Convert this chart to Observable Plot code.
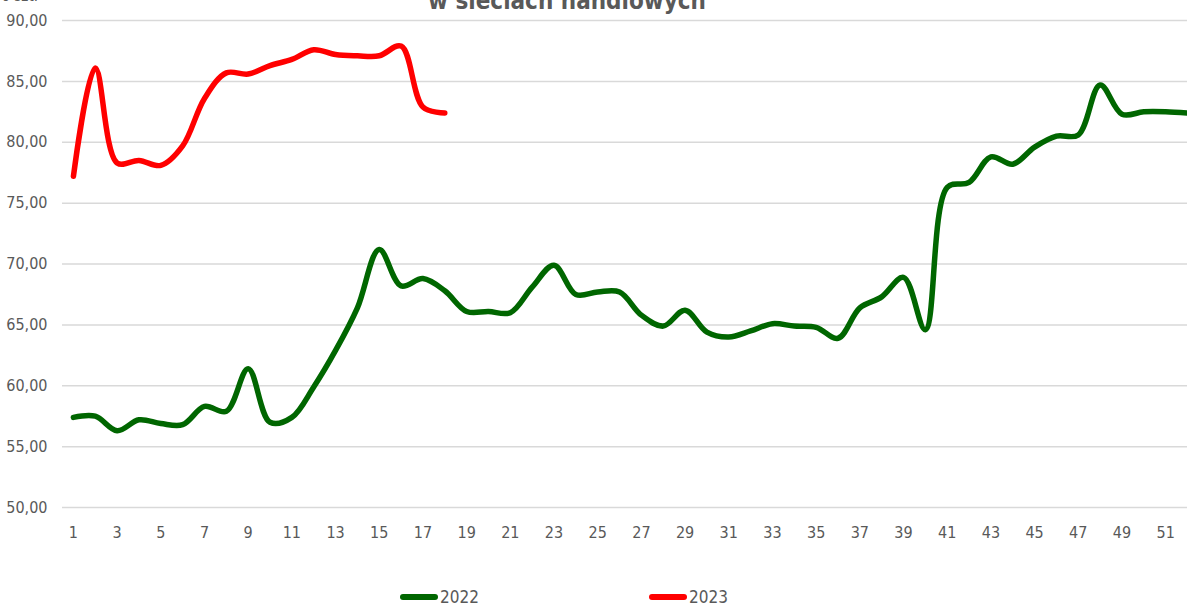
<!DOCTYPE html>
<html>
<head>
<meta charset="utf-8">
<script src="https://cdn.jsdelivr.net/npm/d3@7"></script>
<script src="https://cdn.jsdelivr.net/npm/@observablehq/plot@0.6"></script>
<style>
  html, body { margin: 0; padding: 0; background: #fff; overflow: hidden; }
  #wrap { position: relative; width: 1187px; height: 605px; overflow: hidden;
          font-family: "Liberation Sans Narrow", "DejaVu Sans Condensed", "Liberation Sans", sans-serif; color: #595959; }
  #chart { position: absolute; left: 0; top: 0; }
  #title { position: absolute; left: 0; width: 1134px; top: -13px; text-align: center;
           font-weight: bold; font-size: 24px; color: #595959; white-space: nowrap; }
  #unit { position: absolute; right: 1149px; top: -13px; font-size: 15px; color: #595959; white-space: nowrap; }
  .leg { position: absolute; top: 589px; height: 16px; line-height: 16px; display: flex; align-items: center; font-size: 17px; color: #595959; }
  .sw { width: 38px; height: 6px; border-radius: 3px; margin-right: 2px; }
</style>
</head>
<body>
<div id="wrap">
  <div id="chart"></div>
  <div id="title">w sieciach handlowych</div>
  <div id="unit">1000 szt.</div>
  <div class="leg" style="left:400px"><div class="sw" style="background:#006600"></div><span>2022</span></div>
  <div class="leg" style="left:649px"><div class="sw" style="background:#ff0000"></div><span>2023</span></div>
</div>
<script>
const weeks2022 = Array.from({length: 52}, (_, i) => i + 1);
const values2022 = [
  57.4, 57.5, 56.3, 57.2, 56.9, 56.8, 58.3, 57.9, 61.4, 57.0,
  57.4, 59.9, 62.9, 66.4, 71.2, 68.2, 68.8, 67.8, 66.1, 66.1,
  66.0, 68.1, 69.9, 67.5, 67.7, 67.7, 65.8, 64.9, 66.2, 64.4,
  64.0, 64.5, 65.1, 64.9, 64.8, 63.9, 66.4, 67.3, 68.9, 64.6,
  76.3, 76.7, 78.8, 78.2, 79.6, 80.5, 80.6, 84.7, 82.3, 82.5,
  82.5, 82.4
];
const weeks2023 = Array.from({length: 18}, (_, i) => i + 1);
const values2023 = [
  77.2, 86.1, 78.3, 78.5, 78.1, 79.7, 83.6, 85.7, 85.6, 86.3,
  86.8, 87.6, 87.2, 87.1, 87.1, 87.9, 82.9, 82.4
];
const yTicks = [50, 55, 60, 65, 70, 75, 80, 85, 90];
const xTicks = Array.from({length: 26}, (_, i) => 1 + 2 * i);

const series = [
  ...weeks2022.map((w, i) => ({week: w, value: values2022[i], year: "2022"})),
  ...weeks2023.map((w, i) => ({week: w, value: values2023[i], year: "2023"}))
];

const fmt = d => d.toFixed(2).replace(".", ",");

const chart = Plot.plot({
  width: 1187,
  height: 545,
  marginLeft: 62,
  marginRight: 0,
  marginTop: 20,
  marginBottom: 38,
  style: {fontFamily: '"Liberation Sans Narrow", "DejaVu Sans Condensed", "Liberation Sans", sans-serif', fontSize: "16px", color: "#595959", background: "transparent"},
  x: {domain: [0.5, 52], ticks: xTicks, label: null},
  y: {domain: [50, 90], ticks: yTicks, label: null},
  marks: [
    Plot.gridY(yTicks, {stroke: "#d9d9d9", strokeOpacity: 1, strokeWidth: 1.5}),
    Plot.axisY(yTicks, {tickSize: 0, tickPadding: 15, tickFormat: fmt, fill: "#595959", label: null}),
    Plot.axisX(xTicks, {tickSize: 0, tickPadding: 19, fill: "#595959", label: null}),
    Plot.line(series, {x: "week", y: "value", z: "year",
      stroke: d => d.year === "2022" ? "#006600" : "#ff0000",
      strokeWidth: 5.5, curve: "catmull-rom", strokeLinecap: "round", strokeLinejoin: "round"})
  ]
});
document.getElementById("chart").appendChild(chart);
</script>
</body>
</html>
